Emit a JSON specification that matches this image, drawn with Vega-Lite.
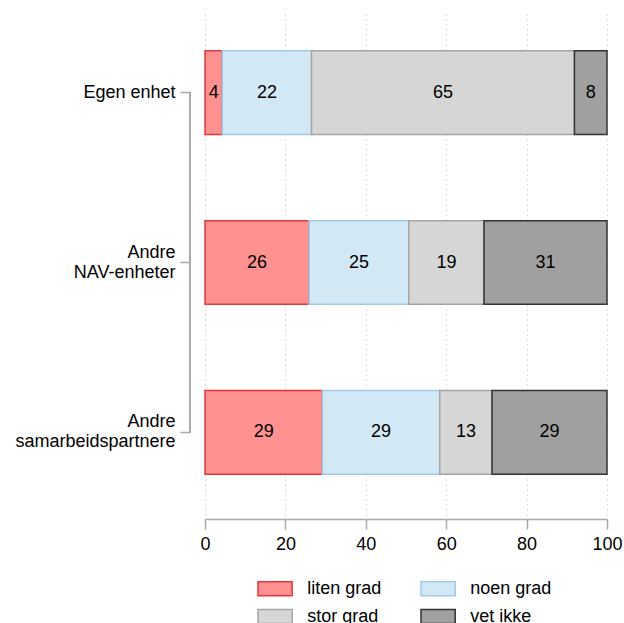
{
  "$schema": "https://vega.github.io/schema/vega-lite/v6.json",
  "width": 402,
  "height": 505,
  "padding": {"left": 14, "top": 10, "right": 0, "bottom": 0},
  "background": "white",
  "config": {"view": {"stroke": null}, "font": "Liberation Sans"},
  "data": {
    "values": [
      {"cat": "Egen enhet", "grad": "liten grad", "ord": 1, "value": 4.3},
      {"cat": "Egen enhet", "grad": "noen grad", "ord": 2, "value": 22.2},
      {"cat": "Egen enhet", "grad": "stor grad", "ord": 3, "value": 65.4},
      {"cat": "Egen enhet", "grad": "vet ikke", "ord": 4, "value": 8.1},
      {"cat": "Andre NAV-enheter", "grad": "liten grad", "ord": 1, "value": 25.9},
      {"cat": "Andre NAV-enheter", "grad": "noen grad", "ord": 2, "value": 24.8},
      {"cat": "Andre NAV-enheter", "grad": "stor grad", "ord": 3, "value": 18.7},
      {"cat": "Andre NAV-enheter", "grad": "vet ikke", "ord": 4, "value": 30.6},
      {"cat": "Andre samarbeidspartnere", "grad": "liten grad", "ord": 1, "value": 29.2},
      {"cat": "Andre samarbeidspartnere", "grad": "noen grad", "ord": 2, "value": 29.2},
      {"cat": "Andre samarbeidspartnere", "grad": "stor grad", "ord": 3, "value": 13.0},
      {"cat": "Andre samarbeidspartnere", "grad": "vet ikke", "ord": 4, "value": 28.6}
    ]
  },
  "transform": [
    {"stack": "value", "groupby": ["cat"], "sort": [{"field": "ord", "order": "ascending"}], "as": ["x0", "x1"]},
    {"calculate": "(datum.x0 + datum.x1) / 2", "as": "xm"}
  ],
  "encoding": {
    "y": {
      "field": "cat",
      "type": "nominal",
      "sort": ["Egen enhet", "Andre NAV-enheter", "Andre samarbeidspartnere"],
      "scale": {"paddingInner": 0.507, "paddingOuter": 0.24},
      "axis": {
        "title": null,
        "offset": 15,
        "domain": false,
        "ticks": true,
        "tickSize": 10,
        "tickColor": "#aaaaaa",
        "tickWidth": 1.5,
        "labelFontSize": 18,
        "labelColor": "#000000",
        "labelPadding": 5,
        "labelLineHeight": 20,
        "labelOffset": {"condition": {"test": "datum.label != 'Egen enhet'", "value": -10}, "value": 0},
        "labelExpr": "datum.label == 'Egen enhet' ? datum.label : split(datum.label, ' ')",
        "grid": false
      }
    }
  },
  "layer": [
    {
      "mark": {"type": "bar", "strokeWidth": 1.5},
      "encoding": {
        "x": {
          "field": "x0",
          "type": "quantitative",
          "scale": {"domain": [0, 100], "nice": false},
          "axis": {
            "title": null,
            "offset": 4,
            "values": [0, 20, 40, 60, 80, 100],
            "grid": true,
            "gridDash": [1, 4],
            "gridColor": "#bbbbbb",
            "domainColor": "#aaaaaa",
            "domainWidth": 1.5,
            "tickColor": "#aaaaaa",
            "tickSize": 10,
            "tickWidth": 1.5,
            "labelFontSize": 18,
            "labelPadding": 6,
            "labelFlush": false,
            "labelColor": "#000000"
          }
        },
        "x2": {"field": "x1"},
        "color": {
          "field": "grad",
          "type": "nominal",
          "scale": {
            "domain": ["liten grad", "noen grad", "stor grad", "vet ikke"],
            "range": ["#ff9191", "#d3e8f5", "#d6d6d6", "#a0a0a0"]
          },
          "legend": {
            "orient": "none",
            "direction": "horizontal",
            "legendX": 57.6,
            "legendY": 566,
            "columns": 2,
            "title": null,
            "padding": 0,
            "symbolType": "M-1.5,-0.62H1.5V0.62H-1.5Z",
            "symbolSize": 520,
            "symbolStrokeWidth": 1.5,
            "symbolOpacity": 1,
            "labelFontSize": 18,
            "labelColor": "#000000",
            "labelOffset": 19.6,
            "columnPadding": 36,
            "rowPadding": 5
          }
        },
        "stroke": {
          "field": "grad",
          "type": "nominal",
          "scale": {
            "domain": ["liten grad", "noen grad", "stor grad", "vet ikke"],
            "range": ["#e8383d", "#9ecbea", "#a5a5a5", "#333333"]
          }
        }
      }
    },
    {
      "mark": {"type": "text", "fontSize": 18, "color": "#000000", "align": "center", "baseline": "middle"},
      "encoding": {
        "x": {"field": "xm", "type": "quantitative"},
        "text": {"field": "value", "type": "quantitative", "format": ".0f"}
      }
    },
    {
      "mark": {"type": "rule", "color": "#aaaaaa", "strokeWidth": 1.5},
      "encoding": {
        "x": {"datum": -3.73, "type": "quantitative"},
        "y": {"datum": "Egen enhet"},
        "y2": {"datum": "Andre samarbeidspartnere"}
      }
    }
  ]
}
